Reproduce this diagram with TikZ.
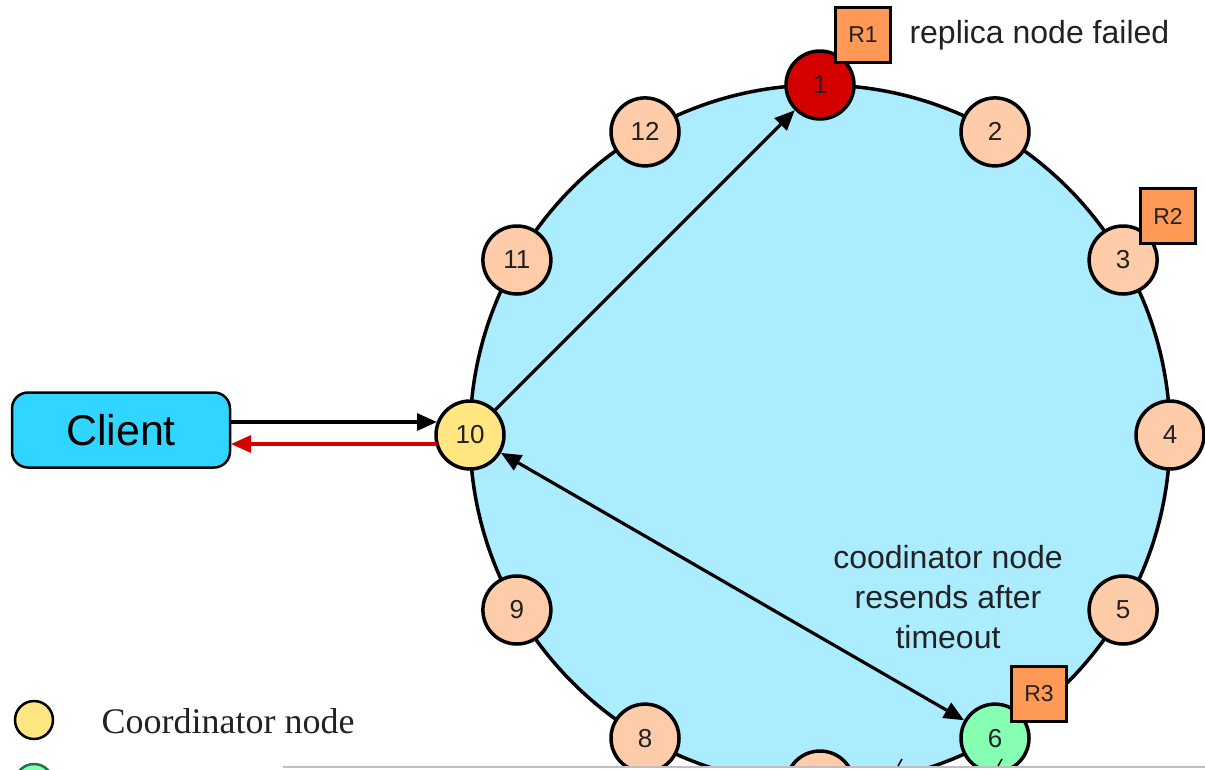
\documentclass[tikz,border=0pt]{standalone}
\usepackage{fontspec}
\setmainfont{Liberation Sans}
\newfontfamily\legendfont{Liberation Serif}
\usetikzlibrary{arrows.meta}
\definecolor{ringfill}{RGB}{172,236,255}
\definecolor{peach}{RGB}{255,204,170}
\definecolor{failred}{RGB}{212,0,0}
\definecolor{coordyellow}{RGB}{255,230,128}
\definecolor{replgreen}{RGB}{135,255,178}
\definecolor{rorange}{RGB}{255,153,85}
\definecolor{clientblue}{RGB}{48,214,255}
\definecolor{textgray}{RGB}{34,34,34}
\definecolor{legendgreen}{RGB}{40,110,85}
\begin{document}
\begin{tikzpicture}[x=1pt,y=-1pt,
  ringnode/.style={circle, draw, line width=3.5pt, minimum size=68pt, inner sep=0pt,
    text=textgray, font=\fontsize{26}{26}\selectfont},
  rbox/.style={draw, line width=2.5pt, fill=rorange, minimum size=55pt, inner sep=0pt,
    text=textgray, font=\fontsize{23}{23}\selectfont},
  arr/.style={line width=3.2pt, -{Triangle[length=20pt,width=17pt]}},
  dblarr/.style={line width=3.2pt, {Triangle[length=20pt,width=17pt]}-{Triangle[length=20pt,width=17pt]}},
  label/.style={text=textgray, font=\fontsize{32}{40}\selectfont, align=center}
]
\useasboundingbox (0,0) rectangle (1205,769);
% ring
\draw[line width=3.5pt, fill=ringfill] (820,435) circle[radius=350];
% ring nodes
\foreach \i/\c/\t in {1/failred/1,2/peach/2,3/peach/3,4/peach/4,5/peach/5,6/replgreen/6,7/peach/{},8/peach/8,9/peach/9,10/coordyellow/10,11/peach/11,12/peach/12}{
  \node[ringnode, fill=\c] (n\i) at ({820+350*sin(30*(\i-1))},{435-350*cos(30*(\i-1))}) {\t};
}
% replica boxes
\node[rbox] (r1) at (863,35) {R1};
\node[rbox] (r2) at (1168,216) {R2};
\node[rbox] (r3) at (1039,694) {R3};
% labels
\node[label, anchor=west] (fail) at (906,35) {replica node failed};
\node[label] (resend) at (948,597) {coodinator node\\resends after\\timeout};
% client
\node[draw, line width=2.5pt, fill=clientblue, rounded corners=16pt, minimum width=218pt,
  minimum height=75pt, inner sep=0pt, font=\fontsize{43}{43}\selectfont] (client) at (121,430) {Client};
\coordinate (c1) at (231,422);
\coordinate (c2) at (231,444);
\coordinate (t1) at (437,422);
\coordinate (t2) at (437,444);
\draw[arr] (c1) -- (t1);
\draw[arr, draw=failred, fill=failred] (t2) -- (c2);
% arrows in ring
\draw[arr] (n10) -- (n1);
\draw[dblarr] (n10) -- (n6);
% legend
\node[circle, draw, line width=2.5pt, fill=coordyellow, minimum size=38pt, inner sep=0pt] (lg1) at (34,720) {};
\node[anchor=west, text=textgray, font=\legendfont\fontsize{36}{36}\selectfont] (lt1) at (98,721) {Coordinator node};
\node[circle, draw=legendgreen, line width=2.5pt, fill=replgreen, minimum size=38pt, inner sep=0pt] (lg2) at (34,783) {};
% bottom overlay strip
\fill[white] (283,767) rectangle (1205,770);
\draw[black!25, line width=1.2pt] (283,767) -- (1205,767);
\draw[line width=1.5pt] (898,766) -- (902,759);
\draw[line width=1.5pt] (998,766) -- (1002,759);
\end{tikzpicture}
\end{document}
